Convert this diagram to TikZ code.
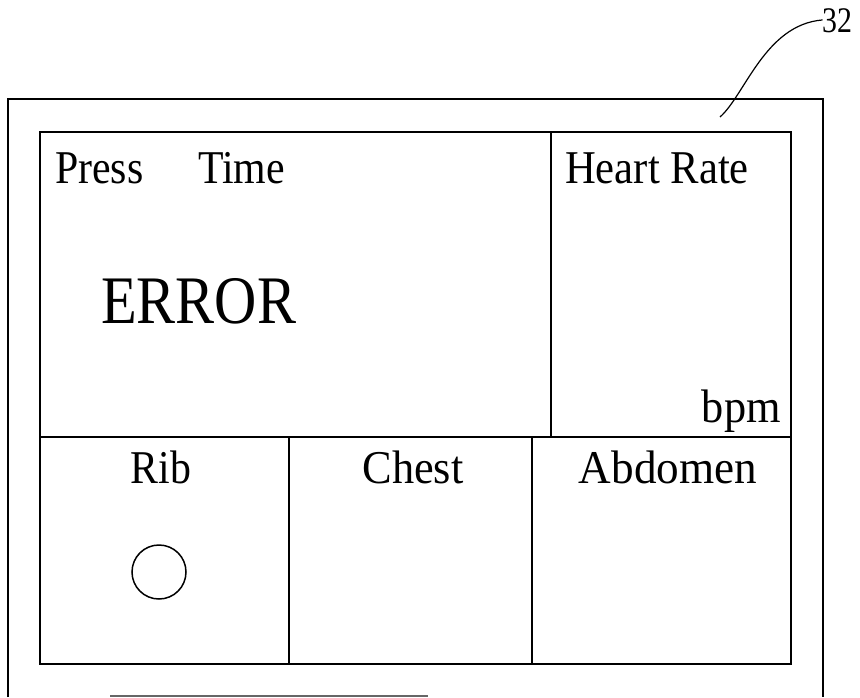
\documentclass[tikz,border=0pt]{standalone}
\usepackage{fontspec}
\setmainfont{Liberation Serif}
\begin{document}
\begin{tikzpicture}[x=1pt,y=-1pt,
  frame/.style={draw=black,line width=1.3pt},
  lbl/.style={inner sep=0pt,xscale=0.89,font=\fontsize{47}{50}\selectfont},
  big/.style={inner sep=0pt,xscale=0.86,font=\fontsize{68}{72}\selectfont}]
\useasboundingbox (0,0) rectangle (860,697);
% outer frame
\draw[frame] (8,697) -- (8,99) -- (823,99) -- (823,697);
\draw[frame,draw=black!60] (110,696) -- (428,696);
% inner display
\draw[frame] (40,132) rectangle (791,664);
\draw[frame] (551,132) -- (551,437);
\draw[frame] (40,437) -- (791,437);
\draw[frame] (289,437) -- (289,664);
\draw[frame] (532,437) -- (532,664);
% texts
\node[lbl,anchor=base west] (press) at (55,183) {Press};
\node[lbl,anchor=base west] (time) at (198,183) {Time};
\node[big,anchor=base west] (error) at (101,323) {ERROR};
\node[lbl,xscale=1.02,anchor=base west] (hr) at (565,183) {Heart Rate};
\node[lbl,xscale=1.06,anchor=base east] (bpm) at (781,422) {bpm};
\node[lbl,anchor=base] (rib) at (161,483) {Rib};
\node[lbl,xscale=1.06,anchor=base] (chest) at (413,483) {Chest};
\node[lbl,xscale=1.08,anchor=base] (abd) at (668,483) {Abdomen};
\node[draw,line width=1.5pt,circle,minimum size=54pt,inner sep=0pt] (dot) at (159,572) {};
% reference label
\node[inner sep=0pt,anchor=base west,xscale=0.83,font=\fontsize{36}{40}\selectfont] (n32) at (822,32) {32};
\coordinate (tip) at (720,117);
\draw[line width=1.2pt] (tip) .. controls (745,95) and (765,25) .. (n32.west |- 0,20) -- (n32.west);
\end{tikzpicture}
\end{document}
